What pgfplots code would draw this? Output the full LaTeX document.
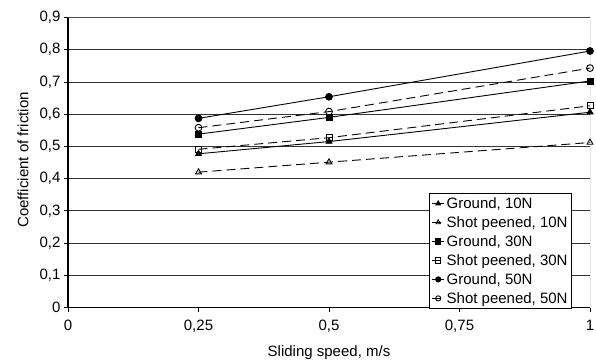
\documentclass[border=0pt]{standalone}
\usepackage{fontspec}
\setmainfont{Liberation Sans}
\usepackage{pgfplots}
\pgfplotsset{compat=1.18}
\begin{document}
\begin{tikzpicture}[x=1pt,y=1pt]
\begin{axis}[
  at={(68pt,53.5pt)}, anchor=south west,
  scale only axis, width=522pt, height=290pt,
  xmin=0, xmax=1, ymin=0, ymax=0.9,
  xtick={0,0.25,0.5,0.75,1},
  xticklabels={0,{0,25},{0,5},{0,75},1},
  ytick={0,0.1,...,0.9},
  yticklabels={0,{0,1},{0,2},{0,3},{0,4},{0,5},{0,6},{0,7},{0,8},{0,9}},
  /pgf/number format/assume math mode=true,
  tick label style={font=\fontsize{15}{18}\selectfont},
  xticklabel style={yshift=-5pt},
  label style={font=\fontsize{15}{18}\selectfont},
  xlabel={Sliding speed, m/s},
  ylabel={Coefficient of friction},
  xlabel style={at={(axis description cs:0.5,-0.155)}, anchor=center},
  ylabel style={at={(axis description cs:-0.0862,0.509)}, anchor=center},
  ymajorgrids, grid style={black!80, line width=0.8pt},
  axis x line*=bottom, axis y line*=left,
  x axis line style={-, line width=1.1pt},
  y axis line style={-, line width=1.1pt},
  tick align=outside, major tick length=4pt,
  tick style={black, line width=0.8pt},
  xtick pos=bottom, ytick pos=left,
  legend cell align=left,
  legend style={at={(0.9655,-0.005)}, anchor=south east, draw=black, line width=0.8pt,
    font=\fontsize{15}{18}\selectfont, row sep=2.6pt, inner sep=2pt},
  legend image code/.code={\draw[mark repeat=2,mark phase=2, mark size=2.6pt] plot coordinates {(0pt,0pt)(6pt,0pt)(12pt,0pt)};},
  every axis plot/.append style={black, line width=0.9pt, mark size=3.4pt},
]
\draw[black!70, line width=0.8pt] (axis cs:0,0.9) -- (axis cs:1,0.9) -- (axis cs:1,0);
\addplot[mark=triangle*, mark options={solid, fill=black}] coordinates {(0.25,0.477) (0.5,0.515) (1,0.606)};
\addlegendentry{Ground, 10N}
\addplot[dash pattern=on 9pt off 5pt, mark=triangle, mark options={solid, fill=white}] coordinates {(0.25,0.420) (0.5,0.451) (1,0.512)};
\addlegendentry{Shot peened, 10N}
\addplot[mark=square*, mark size=3pt, mark options={solid, fill=black}] coordinates {(0.25,0.538) (0.5,0.590) (1,0.703)};
\addlegendentry{Ground, 30N}
\addplot[dash pattern=on 9pt off 5pt, mark=square, mark size=3pt, mark options={solid, fill=white}] coordinates {(0.25,0.491) (0.5,0.527) (1,0.626)};
\addlegendentry{Shot peened, 30N}
\addplot[mark=*, mark options={solid, fill=black}] coordinates {(0.25,0.587) (0.5,0.654) (1,0.796)};
\addlegendentry{Ground, 50N}
\addplot[dash pattern=on 9pt off 5pt, mark=o, mark options={solid, fill=white}] coordinates {(0.25,0.558) (0.5,0.608) (1,0.743)};
\addlegendentry{Shot peened, 50N}
\end{axis}
\pgfresetboundingbox
\path (0,0) rectangle (596pt,361pt);
\end{tikzpicture}
\end{document}
